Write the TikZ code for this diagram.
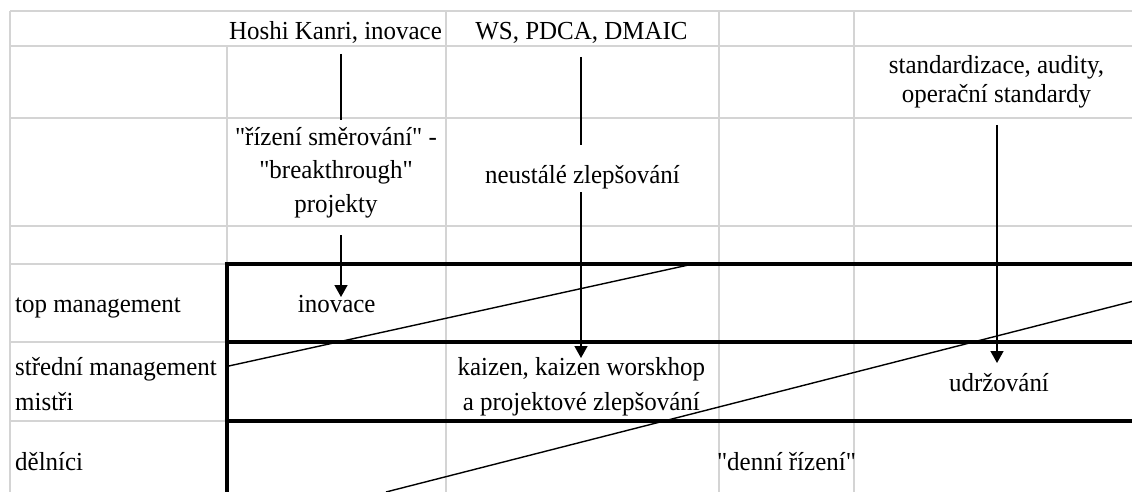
\documentclass[tikz,border=0pt]{standalone}
\usepackage{fontspec}
\setmainfont{Liberation Serif}[Ligatures=TeXOff,FakeStretch=0.96]
\usetikzlibrary{arrows.meta,calc}
\definecolor{gridgray}{RGB}{212,212,212}
\begin{document}
\begin{tikzpicture}[x=1pt,y=-1pt,
  gridline/.style={draw=gridgray,line width=2pt},
  band/.style={draw=black,line width=4pt},
  diag/.style={draw=black,line width=1.4pt},
  conn/.style={draw=black,line width=1.5pt},
  arr/.style={conn,-{Triangle[length=12pt,width=13pt]}},
  txt/.style={inner sep=0pt,font=\fontsize{26}{30}\selectfont,anchor=base},
  ]
\useasboundingbox[fill=white] (0,0) rectangle (1132,492);
% light grid
\foreach \y in {11,46.5,118.5,226,264,342,421} \draw[gridline] (10,\y) -- (1132,\y);
\draw[gridline] (10,11) -- (10,492);
\draw[gridline] (226.5,46.5) -- (226.5,264);
\foreach \x in {446,719,854} \draw[gridline] (\x,11) -- (\x,492);
% thick bands
\foreach \y in {264,342,421} \draw[band] (224.5,\y) -- (1132,\y);
\draw[band] (226.5,262) -- (226.5,492);
% diagonals
\draw[diag] (226.5,366.5) -- (693,264);
\draw[diag] (386,492) -- (1132,301.5);
% texts (base = baseline of the last line)
\node[txt] (hoshi) at (335.5,39.3) {Hoshi Kanri, inovace};
\node[txt] (ws) at (581.5,39.3) {WS, PDCA, DMAIC};
\node[txt,align=center] (std) at (996.5,103) {standardizace, audity,\\[-1pt]operační standardy};
\node[txt,align=center] (rizeni) at (336,212) {"řízení směrování" -\\[3.5pt]"breakthrough"\\[3.5pt]projekty};
\node[txt] (neu) at (582.5,183) {neustálé zlepšování};
\node[txt,anchor=base west] (topm) at (15,312.7) {top management};
\node[txt] (inov) at (336.7,312.7) {inovace};
\node[txt,align=left,anchor=base west] (stred) at (15,410) {střední management\\[5pt]mistři};
\node[txt,align=center] (kaizen) at (581.3,410) {kaizen, kaizen worskhop\\[5pt]a projektové zlepšování};
\node[txt] (udr) at (999,391.7) {udržování};
\node[txt,anchor=base west] (del) at (15,470) {dělníci};
\node[txt] (denni) at (786.5,470) {"denní řízení"};
% arrow columns
\coordinate (c1) at (341,0);
\coordinate (c2) at (581,0);
\coordinate (c3) at (997,0);
% connectors
\draw[conn] ($(hoshi.base -| c1)+(0,14.7)$) -- ($(rizeni.base -| c1)+(0,-92)$);
\draw[arr] ($(rizeni.base -| c1)+(0,23)$) -- ($(inov.base -| c1)+(0,-15.7)$);
\draw[conn] ($(ws.base -| c2)+(0,17.7)$) -- ($(neu.base -| c2)+(0,-38)$);
\draw[arr] ($(neu.base -| c2)+(0,9)$) -- ($(kaizen.base -| c2)+(0,-52)$);
\draw[arr] ($(std.base -| c3)+(0,22)$) -- ($(udr.base -| c3)+(0,-28.7)$);
\end{tikzpicture}
\end{document}
